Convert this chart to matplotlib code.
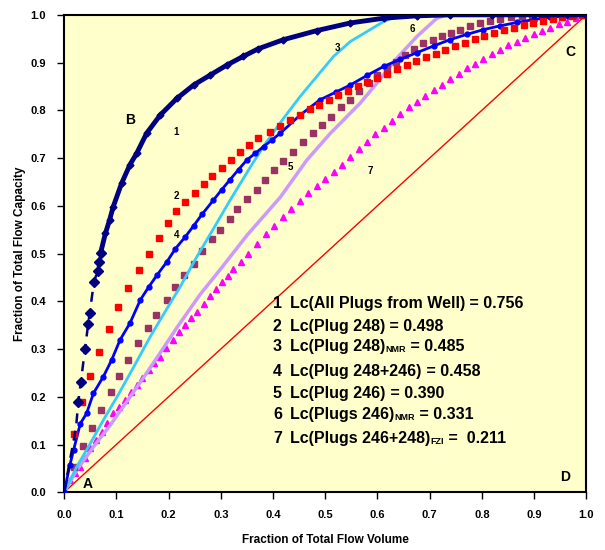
import matplotlib.pyplot as plt
import numpy as np

plt.rcParams['font.family'] = ['Liberation Sans', 'DejaVu Sans']

# 1: all plugs from well (navy diamonds)
x1 = [0.0, 0.010, 0.023, 0.027, 0.032, 0.040, 0.046, 0.049, 0.057, 0.064, 0.066, 0.070,
      0.079, 0.087, 0.094, 0.110, 0.126, 0.139, 0.158, 0.184, 0.216, 0.248, 0.280,
      0.312, 0.343, 0.372, 0.420, 0.484, 0.548, 0.612, 0.676, 0.740, 0.820, 0.900, 1.0]
y1 = [0.0, 0.060, 0.137, 0.189, 0.231, 0.300, 0.352, 0.375, 0.440, 0.463, 0.483, 0.502,
      0.542, 0.570, 0.598, 0.647, 0.686, 0.710, 0.752, 0.790, 0.825, 0.853, 0.874,
      0.895, 0.913, 0.929, 0.948, 0.967, 0.983, 0.993, 0.998, 1.0, 1.0, 1.0, 1.0]

# 2: plug 248 (red squares)
x2 = [0.019, 0.034, 0.049, 0.067, 0.086, 0.104, 0.123, 0.144, 0.162, 0.181, 0.198,
      0.215, 0.232, 0.251, 0.267, 0.284, 0.303, 0.319, 0.337, 0.355, 0.372, 0.395,
      0.414, 0.433, 0.452, 0.470, 0.488, 0.507, 0.525, 0.544, 0.562, 0.581, 0.600,
      0.618, 0.637, 0.656, 0.674, 0.693, 0.712, 0.730, 0.749, 0.768, 0.786, 0.805,
      0.824, 0.842, 0.861, 0.880, 0.898, 0.917, 0.936, 0.954, 0.973, 0.991]
y2 = [0.122, 0.189, 0.243, 0.293, 0.343, 0.388, 0.427, 0.465, 0.499, 0.533, 0.565,
      0.589, 0.607, 0.626, 0.645, 0.663, 0.679, 0.695, 0.712, 0.727, 0.741, 0.755,
      0.767, 0.780, 0.791, 0.802, 0.812, 0.822, 0.832, 0.841, 0.850, 0.859, 0.868,
      0.877, 0.886, 0.895, 0.903, 0.911, 0.919, 0.927, 0.935, 0.942, 0.949, 0.956,
      0.962, 0.968, 0.973, 0.978, 0.983, 0.988, 0.992, 0.995, 0.998, 1.0]

# 3: plug 248 NMR (cyan line)
x3 = [0.0, 0.024, 0.050, 0.075, 0.104, 0.133, 0.165, 0.190, 0.222, 0.254, 0.286,
      0.318, 0.356, 0.382, 0.420, 0.452, 0.484, 0.516, 0.548, 0.580, 0.612, 0.644, 1.0]
y3 = [0.0, 0.053, 0.102, 0.151, 0.205, 0.262, 0.326, 0.372, 0.430, 0.493, 0.552,
      0.612, 0.680, 0.725, 0.783, 0.829, 0.871, 0.913, 0.944, 0.965, 0.986, 1.0, 1.0]

# 4: plug 248+246 (blue line, small markers)
x4 = [0.0, 0.011, 0.018, 0.031, 0.043, 0.056, 0.075, 0.091, 0.107, 0.126, 0.146,
      0.162, 0.178, 0.197, 0.213, 0.232, 0.248, 0.264, 0.286, 0.302, 0.318, 0.334,
      0.350, 0.366, 0.382, 0.398, 0.414, 0.452, 0.490, 0.520, 0.548, 0.580, 0.612,
      0.644, 0.676, 0.708, 0.739, 0.771, 0.803, 0.835, 0.867, 0.899, 0.931, 0.965, 1.0]
y4 = [0.0, 0.057, 0.088, 0.144, 0.165, 0.207, 0.242, 0.277, 0.319, 0.354, 0.403,
      0.430, 0.455, 0.483, 0.510, 0.535, 0.558, 0.582, 0.612, 0.634, 0.655, 0.676,
      0.696, 0.710, 0.724, 0.738, 0.752, 0.790, 0.822, 0.838, 0.853, 0.873, 0.892,
      0.907, 0.921, 0.935, 0.948, 0.959, 0.969, 0.977, 0.984, 0.990, 0.995, 0.998, 1.0]

# 5: plug 246 (maroon squares)
x5 = [0.019, 0.037, 0.053, 0.071, 0.089, 0.105, 0.123, 0.142, 0.160, 0.176, 0.197,
      0.213, 0.230, 0.248, 0.265, 0.283, 0.299, 0.317, 0.332, 0.350, 0.369, 0.384,
      0.402, 0.420, 0.439, 0.457, 0.476, 0.494, 0.511, 0.530, 0.548, 0.565, 0.583,
      0.600, 0.618, 0.636, 0.653, 0.670, 0.688, 0.706, 0.724, 0.741, 0.759, 0.778,
      0.797, 0.816, 0.835, 0.856, 0.877, 0.896, 0.915, 0.935, 0.954, 0.975, 0.995]
y5 = [0.053, 0.096, 0.134, 0.173, 0.210, 0.244, 0.278, 0.312, 0.344, 0.371, 0.403,
      0.429, 0.455, 0.479, 0.505, 0.530, 0.549, 0.572, 0.593, 0.614, 0.633, 0.654,
      0.674, 0.694, 0.713, 0.733, 0.752, 0.770, 0.787, 0.808, 0.822, 0.840, 0.857,
      0.873, 0.888, 0.902, 0.916, 0.928, 0.940, 0.948, 0.956, 0.963, 0.969, 0.976,
      0.983, 0.988, 0.992, 0.995, 0.998, 0.999, 1.0, 1.0, 1.0, 1.0, 1.0]

# 6: plugs 246 NMR (lavender line)
x6 = [0.0, 0.024, 0.056, 0.088, 0.120, 0.152, 0.184, 0.216, 0.261, 0.300, 0.350,
      0.414, 0.465, 0.510, 0.567, 0.599, 0.637, 0.676, 0.714, 0.733, 1.0]
y6 = [0.0, 0.046, 0.095, 0.140, 0.190, 0.240, 0.292, 0.345, 0.415, 0.468, 0.538,
      0.618, 0.696, 0.752, 0.815, 0.857, 0.909, 0.955, 0.993, 1.0, 1.0]

# 7: plugs 246+248 FZI (magenta triangles)
x7 = [0.0, 0.011, 0.021, 0.031, 0.040, 0.050, 0.061, 0.072, 0.083, 0.094, 0.105,
      0.117, 0.128, 0.139, 0.150, 0.162, 0.173, 0.184, 0.196, 0.209, 0.220, 0.232,
      0.243, 0.254, 0.267, 0.280, 0.291, 0.302, 0.313, 0.324, 0.338, 0.353, 0.370,
      0.386, 0.402, 0.419, 0.435, 0.452, 0.468, 0.484, 0.500, 0.516, 0.532, 0.548,
      0.564, 0.580, 0.596, 0.612, 0.628, 0.644, 0.660, 0.676, 0.692, 0.708, 0.724,
      0.740, 0.756, 0.771, 0.787, 0.803, 0.819, 0.835, 0.851, 0.867, 0.883, 0.899,
      0.915, 0.931, 0.947, 0.963, 0.980, 1.0]
y7 = [0.0, 0.025, 0.040, 0.053, 0.072, 0.092, 0.109, 0.126, 0.146, 0.165, 0.179,
      0.193, 0.209, 0.224, 0.240, 0.256, 0.270, 0.284, 0.302, 0.319, 0.335, 0.350,
      0.364, 0.378, 0.394, 0.412, 0.426, 0.440, 0.454, 0.467, 0.483, 0.499, 0.520,
      0.540, 0.558, 0.576, 0.594, 0.610, 0.626, 0.642, 0.656, 0.670, 0.686, 0.702,
      0.718, 0.734, 0.750, 0.764, 0.778, 0.792, 0.806, 0.818, 0.830, 0.842, 0.854,
      0.866, 0.877, 0.888, 0.898, 0.908, 0.918, 0.927, 0.936, 0.944, 0.952, 0.960,
      0.967, 0.973, 0.980, 0.986, 0.993, 1.0]

curve_labels = [('1', 0.215, 0.755), ('2', 0.215, 0.621), ('3', 0.523, 0.931),
                ('4', 0.216, 0.539), ('5', 0.433, 0.681), ('6', 0.667, 0.971),
                ('7', 0.586, 0.673)]
corner_labels = [('A', 0.046, 0.017), ('B', 0.126, 0.780), ('C', 0.969, 0.922),
                 ('D', 0.960, 0.031)]

# Lorenz coefficients: (number, main text, subscript, value text)
lc_rows = [('1', 'Lc(All Plugs from Well)', '', ' = 0.756'),
           ('2', 'Lc(Plug 248)', '', ' = 0.498'),
           ('3', 'Lc(Plug 248)', 'NMR', ' = 0.485'),
           ('4', 'Lc(Plug 248+246)', '', ' = 0.458'),
           ('5', 'Lc(Plug 246)', '', ' = 0.390'),
           ('6', 'Lc(Plugs 246)', 'NMR', ' = 0.331'),
           ('7', 'Lc(Plugs 246+248)', 'FZI', ' =  0.211')]
lc_y = [0.386, 0.337, 0.295, 0.244, 0.197, 0.153, 0.103]

fig = plt.figure(figsize=(6.05, 5.5), dpi=100)
ax = fig.add_axes([0.106, 0.105, 0.863, 0.868])
ax.set_facecolor('#FFFFCC')

ax.plot([0, 1], [0, 1], color='red', lw=1, zorder=2)
ax.plot(x7, y7, ls='none', marker='^', ms=5, color='#FF00FF', zorder=3)
ax.plot(x6, y6, color='#CC99FF', lw=2.5, zorder=3)
ax.plot(x5, y5, ls='none', marker='s', ms=5, color='#993366', zorder=4)
ax.plot(x3, y3, color='#33CCFF', lw=2, zorder=4)
ax.plot(x4, y4, color='#0000FF', lw=2, marker='o', ms=3.5, zorder=5)
ax.plot(x2, y2, ls='none', marker='s', ms=4, color='#FF0000', zorder=5)
# navy curve: dashed lower part, thick solid upper part
ax.plot(x1[:12], y1[:12], color='#000080', lw=1.8, ls=(0, (4, 3)), zorder=6)
ax.plot(x1[3:12], y1[3:12], ls='none', marker='D', ms=5, color='#000080', zorder=6)
ax.plot(x1[11:], y1[11:], color='#000080', lw=3.5, marker='D', ms=3.5, zorder=6)

for t, xx, yy in curve_labels:
    ax.text(xx, yy, t, fontsize=7, fontweight='bold', ha='center', va='center', zorder=7)
for t, xx, yy in corner_labels:
    ax.text(xx, yy, t, fontsize=10, fontweight='bold', ha='center', va='center', zorder=7)

for (num, main, sub, val), yy in zip(lc_rows, lc_y):
    ax.text(0.40, yy, num, fontsize=11.5, fontweight='bold', va='baseline', zorder=7)
    t = ax.text(0.433, yy, main, fontsize=11.5, fontweight='bold', va='baseline', zorder=7)
    if sub:
        t = ax.annotate(sub, xy=(1, 0), xycoords=t, fontsize=6.5, fontweight='bold',
                        va='bottom', ha='left', zorder=7)
    ax.annotate(val, xy=(1, 0), xycoords=t, fontsize=11.5, fontweight='bold',
                va='bottom', ha='left', zorder=7)

ax.set_xlim(0, 1)
ax.set_ylim(0, 1)
ax.set_xticks(np.arange(0, 1.01, 0.1))
ax.set_yticks(np.arange(0, 1.01, 0.1))
ax.set_xticklabels([f'{v:.1f}' for v in np.arange(0, 1.01, 0.1)], fontweight='bold')
ax.set_yticklabels([f'{v:.1f}' for v in np.arange(0, 1.01, 0.1)], fontweight='bold')
ax.tick_params(direction='out', length=5, width=1, labelsize=8, pad=8)
for s in ax.spines.values():
    s.set_linewidth(1.5)
ax.set_xlabel('Fraction of Total Flow Volume', fontsize=8.5, fontweight='bold', labelpad=10)
ax.set_ylabel('Fraction of Total Flow Capacity', fontsize=8.5, fontweight='bold', labelpad=3)

plt.savefig('out.png', dpi=100)
